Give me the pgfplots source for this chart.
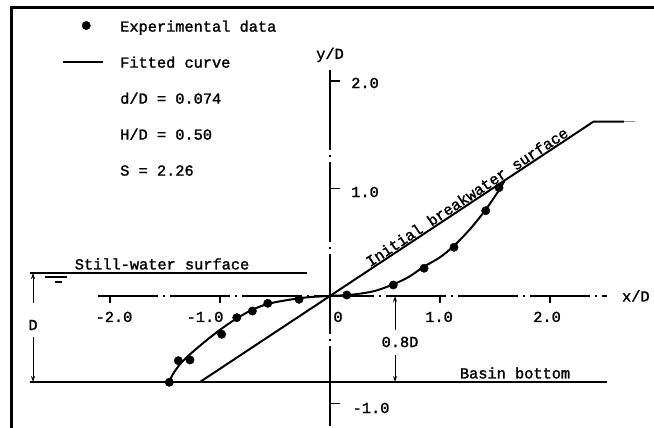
\documentclass[border=0pt]{standalone}
\usepackage{pgfplots}
\pgfplotsset{compat=1.18}
\usepackage{fontspec}
\setmainfont{Liberation Mono}[FakeBold=1.5]
\usetikzlibrary{arrows.meta}
\newcommand\tw{\fontsize{15.3}{18}\selectfont}
\begin{document}
\begin{tikzpicture}[font=\tw]
\begin{axis}[
  x=110pt, y=107.5pt,
  xmin=-3, xmax=2.945, ymin=-1.228, ymax=2.753,
  hide axis, clip=false,
  legend style={at={(axis cs:-2.436,2.563)}, anchor=north west, draw=none, fill=none,
    font=\tw, inner sep=0pt, row sep=21.5pt, column sep=16pt,
    cells={anchor=west}, nodes={inner sep=0pt, text height=11pt, text depth=3.5pt}},
]
% frame
\draw[line width=2.7pt, line join=miter] (axis cs:-2.897,-1.3) -- (axis cs:-2.897,2.685) -- (axis cs:3.0,2.685);
% legend entries
\addplot[only marks, mark=*, mark size=4.2pt, black,
  legend image code/.code={\fill[black] (23pt,0) circle (4.2pt); \path[draw=none] (0,0) -- (40pt,0);}]
  coordinates {(-1.461,-0.803) (-1.379,-0.602) (-1.273,-0.595) (-0.985,-0.356) (-0.848,-0.202)
   (-0.706,-0.140) (-0.566,-0.068) (-0.282,-0.031) (0.152,0.009) (0.575,0.102) (0.855,0.258)
   (1.127,0.453) (1.415,0.793) (1.536,1.007)};
\addlegendentry{Experimental data}
\addplot[black, line width=2pt, smooth, tension=0.5,
  legend image code/.code={\draw[line width=2pt] (0,0) -- (40pt,0);}]
  coordinates {(-1.47,-0.82) (-1.43,-0.73) (-1.36,-0.63) (-1.27,-0.54) (-1.12,-0.41) (-0.98,-0.30)
   (-0.85,-0.21) (-0.71,-0.13) (-0.57,-0.075) (-0.40,-0.04) (-0.2,-0.012) (0,0) (0.2,0.012)
   (0.4,0.045) (0.58,0.11) (0.72,0.18) (0.85,0.27) (1.0,0.36) (1.13,0.47) (1.28,0.63)
   (1.42,0.81) (1.54,0.99) (1.59,1.08)};
\addlegendentry{Fitted curve}
\addlegendimage{empty legend}\addlegendentry{d/D = 0.074}
\addlegendimage{empty legend}\addlegendentry{H/D = 0.50}
\addlegendimage{empty legend}\addlegendentry{S = 2.26}
% initial breakwater surface
\addplot[black, line width=2pt, forget plot] coordinates {(-1.182,-0.80) (2.394,1.621) (2.67,1.621)};
\addplot[black!45, line width=1pt, forget plot] coordinates {(2.67,1.621) (2.77,1.621)};
% still water and basin bottom
\addplot[black, line width=1.5pt, forget plot] coordinates {(-2.727,0.214) (-0.209,0.214)};
\addplot[black, line width=2pt, forget plot] coordinates {(-2.727,-0.80) (2.518,-0.80)};
% axes (centre lines)
\addplot[black, line width=1.3pt, dash pattern=on 60pt off 5pt on 2pt off 5pt, forget plot]
  coordinates {(-2.109,0) (2.518,0)};
\addplot[black, line width=1.3pt, dash pattern=on 80pt off 5pt on 2pt off 5pt, forget plot]
  coordinates {(0,2.10) (0,-1.25)};
% ticks
\pgfplotsinvokeforeach{-2,-1,1,2}{\draw[line width=1.2pt] (axis cs:#1,0) -- (axis cs:#1,-0.07);}
\pgfplotsinvokeforeach{-1,1,2}{\draw[line width=1.2pt] (axis cs:0,#1) -- (axis cs:0.09,#1);}
\node at (axis cs:-1.964,-0.195) {-2.0};
\node at (axis cs:-1.136,-0.195) {-1.0};
\node at (axis cs:0.073,-0.195) {0};
\node at (axis cs:0.991,-0.195) {1.0};
\node at (axis cs:1.973,-0.195) {2.0};
\node at (axis cs:0.318,1.981) {2.0};
\node at (axis cs:0.318,0.967) {1.0};
\node at (axis cs:0.373,-1.042) {-1.0};
\node at (axis cs:2.78,0) {x/D};
\node at (axis cs:0,2.242) {y/D};
% labels
\node at (axis cs:-1.527,0.298) {Still-water surface};
\node at (axis cs:1.682,-0.716) {Basin bottom};
\node[anchor=south, rotate=33.5, inner sep=1.5pt] at (axis cs:1.28,0.866) {Initial breakwater surface};
% water level symbol
\draw[line width=1.5pt] (axis cs:-2.59,0.177) -- (axis cs:-2.39,0.177);
\draw[line width=1.2pt] (axis cs:-2.50,0.13) -- (axis cs:-2.44,0.13);
% D dimension
\draw[line width=1pt, -{Stealth[length=6pt,width=4pt]}] (axis cs:-2.70,-0.065) -- (axis cs:-2.70,0.214);
\draw[line width=1pt, -{Stealth[length=6pt,width=4pt]}] (axis cs:-2.70,-0.384) -- (axis cs:-2.70,-0.80);
\node at (axis cs:-2.70,-0.27) {D};
% 0.8D dimension
\draw[line width=1pt, -{Stealth[length=6pt,width=4pt]}] (axis cs:0.591,-0.316) -- (axis cs:0.591,0);
\draw[line width=1pt, -{Stealth[length=6pt,width=4pt]}] (axis cs:0.591,-0.549) -- (axis cs:0.591,-0.80);
\node at (axis cs:0.636,-0.428) {0.8D};
\coordinate (bl) at (axis cs:-3,-1.228);
\coordinate (tr) at (axis cs:2.945,2.753);
\end{axis}
\pgfresetboundingbox
\useasboundingbox (bl) rectangle (tr);
\end{tikzpicture}
\end{document}
